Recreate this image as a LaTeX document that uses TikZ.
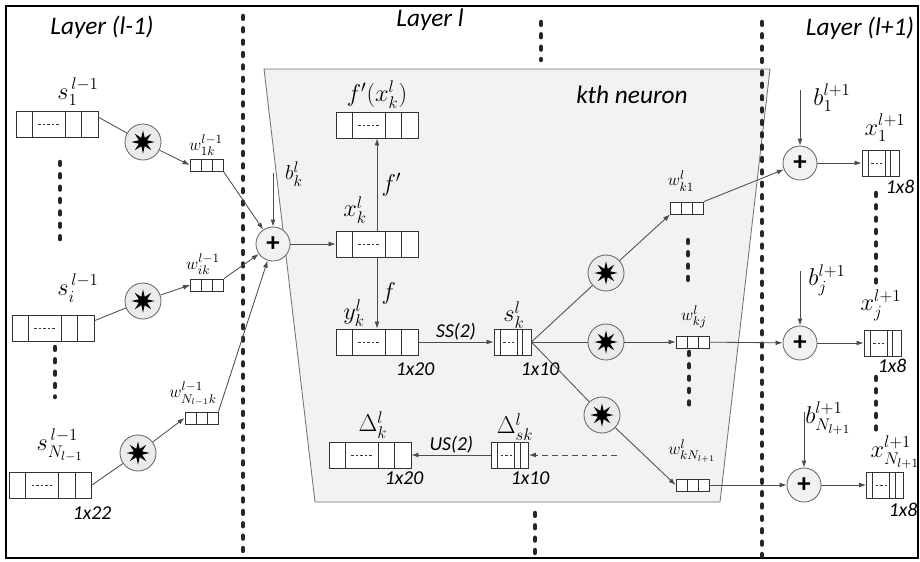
\documentclass[tikz,border=0pt]{standalone}
\usepackage{amsmath}
\usepackage{fontspec}
\newfontfamily\lblfont{Carlito}
\usetikzlibrary{arrows.meta, positioning, calc, shapes.geometric}

\begin{document}
\begin{tikzpicture}[
    x=0.025cm, y=-0.025cm,
    box/.style={draw=black!80, fill=white, line width=0.6pt, inner sep=0pt},
    cells/.style n args={3}{path picture={
        \foreach \f in {#1}
            \draw[black!80, line width=0.6pt] ($(path picture bounding box.south west)!\f!(path picture bounding box.south east)$) -- ($(path picture bounding box.north west)!\f!(path picture bounding box.north east)$);
        \draw[black!80, line width=0.5pt, dash pattern=on 1.8pt off 1.4pt] ($(path picture bounding box.west)!#2!(path picture bounding box.east)$) -- ($(path picture bounding box.west)!#3!(path picture bounding box.east)$);
    }},
    bigvec/.style={box, minimum width=2.05cm, minimum height=0.65cm, cells={0.2,0.6,0.8}{0.27}{0.53}},
    smallvec/.style={box, minimum width=0.925cm, minimum height=0.65cm, cells={0.16,0.62,0.78}{0.25}{0.55}},
    wvec/.style={box, minimum width=0.825cm, minimum height=0.3cm, cells={0.333,0.667}{0.5}{0.5}},
    mult/.style={circle, draw=black!60, fill=black!8, line width=0.6pt, minimum size=0.9cm, inner sep=0pt,
        path picture={\node[star, star points=8, star point ratio=2.6, fill=black, inner sep=0pt, minimum size=0.58cm] at (path picture bounding box.center) {};}},
    add/.style={circle, draw=black!60, fill=black!5, line width=0.6pt, minimum size=0.85cm, inner sep=0pt, font=\lblfont\bfseries\fontsize{19}{19}\selectfont},
    wire/.style={draw=black!70, line width=0.6pt},
    conn/.style={wire, -{Latex[length=5pt, width=3.5pt]}},
    dotline/.style={draw=black!85, line width=3.2pt, line cap=round, dash pattern=on 2pt off 6.8pt},
    lbl/.style={font=\fontsize{18}{21}\selectfont, inner sep=1pt},
    wl/.style={font=\fontsize{13}{15}\selectfont, inner sep=1pt},
    dim/.style={font=\lblfont\itshape\fontsize{14}{16}\selectfont, inner sep=1pt},
    layer/.style={font=\lblfont\itshape\fontsize{18}{20}\selectfont}
]
    \useasboundingbox (0,0) rectangle (920,561);
    \draw[line width=1.2pt] (6,6) rectangle (918,558);
    \draw[draw=black!55, fill=black!5, line width=0.6pt] (264,69) -- (770,69) -- (720,502) -- (315,502) -- cycle;

    \draw[dotline] (243,16) -- (243,556);
    \draw[dotline] (762,22) -- (762,556);
    \draw[dotline] (541,22) -- (541,60);
    \draw[dotline] (535,513) -- (535,555);
    \draw[dotline] (60,162) -- (60,248);
    \draw[dotline] (55,347) -- (55,397);
    \draw[dotline] (688,240) -- (688,285);
    \draw[dotline] (689,352) -- (689,405);
    \draw[dotline] (876,193) -- (876,283);
    \draw[dotline] (876,377) -- (876,430);

    \node[layer] at (102,27) {Layer (l-1)};
    \node[layer] at (430,20) {Layer l};
    \node[layer] at (860,28) {Layer (l+1)};
    \node[layer] at (632,95) {kth neuron};

    \node[bigvec] (s1) at (57,124.5) {};
    \node[bigvec] (si) at (53,328) {};
    \node[bigvec] (sN) at (50.5,485) {};
    \node[mult] (m1) at (143,142) {};
    \node[mult] (mi) at (143,301) {};
    \node[mult] (mN) at (138,453) {};
    \node[wvec] (w1) at (206.5,165) {};
    \node[wvec] (wi) at (207,285) {};
    \node[wvec] (wN) at (201.5,418) {};
    \node[add] (addk) at (273,244) {+};

    \node[bigvec] (xk) at (377,244) {};
    \node[bigvec] (fpk) at (377,125) {};
    \node[bigvec] (yk) at (377,342) {};
    \node[bigvec] (dk) at (370,455) {};
    \node[smallvec] (sk) at (512.5,342) {};
    \node[smallvec] (dsk) at (510,455) {};
    \node[mult] (mo1) at (606,273) {};
    \node[mult] (moj) at (606,342) {};
    \node[mult] (moN) at (602,415) {};
    \node[wvec] (wo1) at (687,208) {};
    \node[wvec] (woj) at (692.5,342) {};
    \node[wvec] (woN) at (692.5,485) {};

    \node[add] (add1) at (800,163) {+};
    \node[add] (addj) at (800,343) {+};
    \node[add] (addN) at (804,485) {+};
    \node[smallvec] (xo1) at (880.5,163) {};
    \node[smallvec] (xoj) at (882.5,343) {};
    \node[smallvec] (xoN) at (885,485) {};

    \coordinate (bk) at (273,173);
    \coordinate (b1) at (800,90);
    \coordinate (bj) at (800,271);
    \coordinate (bN) at (804,412);
    \coordinate (back) at (617,455);

    \node[lbl] at (78,92) {$s_1^{\,l-1}$};
    \node[lbl] at (78,288) {$s_i^{\,l-1}$};
    \node[lbl] at (60,445) {$s_{N_{l-1}}^{\,l-1}$};
    \node[wl] at (206,145) {$w_{1k}^{l-1}$};
    \node[wl] at (203,264) {$w_{ik}^{l-1}$};
    \node[wl] at (193,394) {$w_{N_{l-1}k}^{l-1}$};
    \node[lbl, font=\fontsize{15}{17}\selectfont] at (294,174) {$b_k^l$};
    \node[lbl, above=1pt of fpk] {$f'(x_k^l)$};
    \node[lbl] at (355,210) {$x_k^l$};
    \node[lbl] at (354,313) {$y_k^l$};
    \node[lbl] at (514,315) {$s_k^l$};
    \node[lbl] at (373,425) {$\Delta_k^l$};
    \node[lbl] at (515,427) {$\Delta_{sk}^l$};
    \node[wl] at (681,181) {$w_{k1}^l$};
    \node[wl] at (694,317) {$w_{kj}^l$};
    \node[wl] at (692,451) {$w_{kN_{l+1}}^l$};
    \node[lbl] at (832,98) {$b_1^{l+1}$};
    \node[lbl] at (827,280) {$b_j^{l+1}$};
    \node[lbl] at (828,418) {$b_{N_{l+1}}^{l+1}$};
    \node[lbl] at (885,128) {$x_1^{l+1}$};
    \node[lbl] at (881,305) {$x_j^{l+1}$};
    \node[lbl] at (895,452) {$x_{N_{l+1}}^{l+1}$};

    \node[dim] at (92,513) {1x22};
    \node[dim] at (415,369) {1x20};
    \node[dim] at (540,369) {1x10};
    \node[dim] at (404,478) {1x20};
    \node[dim] at (530,478) {1x10};
    \node[dim] at (900,187) {1x8};
    \node[dim] at (892,366) {1x8};
    \node[dim] at (903,510) {1x8};

    \draw[wire] (s1.10) -- (m1);
    \draw[wire] (si.10) -- (mi);
    \draw[wire] (sN.east) -- (mN);
    \draw[conn] (m1) -- (w1.west);
    \draw[conn] (mi) -- (wi.west);
    \draw[conn] (mN) -- (wN.west);
    \draw[conn] (w1.south east) -- (addk);
    \draw[conn] (wi.north east) -- (addk);
    \draw[conn] (wN.north east) -- (addk);
    \draw[conn] (bk) -- (addk);
    \draw[conn] (addk) -- (xk);
    \draw[conn] (xk) -- (fpk) node[midway, right=2pt, lbl] {$f'$};
    \draw[conn] (xk) -- (yk) node[midway, right=2pt, lbl] {$f$};
    \draw[conn] (yk) -- (sk) node[midway, above, dim] {SS(2)};
    \draw[wire] (sk.east) -- (mo1);
    \draw[wire] (sk.east) -- (moj);
    \draw[wire] (sk.east) -- (moN);
    \draw[conn] (mo1) -- (wo1.south west);
    \draw[conn] (moj) -- (woj);
    \draw[conn] (moN) -- (woN.west);
    \draw[conn] (wo1.north east) -- (add1);
    \draw[conn] (woj) -- (addj);
    \draw[conn] (woN) -- (addN);
    \draw[conn] (b1) -- (add1);
    \draw[conn] (bj) -- (addj);
    \draw[conn] (bN) -- (addN);
    \draw[conn] (add1) -- (xo1);
    \draw[conn] (addj) -- (xoj);
    \draw[conn] (addN) -- (xoN);
    \draw[conn] (dsk) -- (dk) node[midway, above, dim] {US(2)};
    \draw[conn, dash pattern=on 4pt off 3pt] (back) -- (dsk);
\end{tikzpicture}
\end{document}
